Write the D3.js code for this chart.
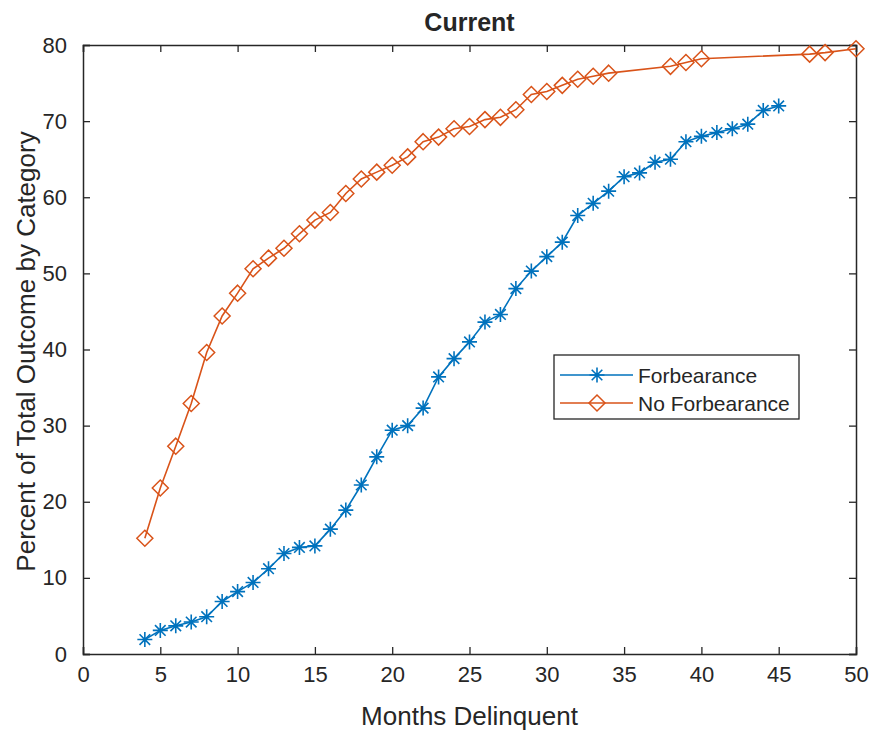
<!DOCTYPE html>
<html>
<head>
<meta charset="utf-8">
<script src="https://cdn.jsdelivr.net/npm/d3@7"></script>
<style>
  body { margin: 0; background: #fff; }
  text { font-family: "Liberation Sans", Arial, sans-serif; fill: #262626; }
</style>
</head>
<body>
<div id="chart"></div>
<script>
// data
let months_forb = [4, 5, 6, 7, 8, 9, 10, 11, 12, 13, 14, 15, 16, 17, 18, 19, 20, 21, 22, 23, 24,
    25, 26, 27, 28, 29, 30, 31, 32, 33, 34, 35, 36, 37, 38, 39, 40, 41, 42, 43, 44, 45];
let pct_forb = [1.9, 3.1, 3.7, 4.2, 4.9, 6.9, 8.2, 9.4, 11.2, 13.2, 14.0, 14.2, 16.4, 18.9, 22.2, 25.9, 29.4, 30.0, 32.3, 36.4, 38.8,
    41.0, 43.6, 44.6, 48.0, 50.3, 52.2, 54.1, 57.6, 59.2, 60.8, 62.7, 63.2, 64.6, 65.0, 67.3, 68.0, 68.5, 69.0, 69.6, 71.4, 72.0];

let months_noforb = [4, 5, 6, 7, 8, 9, 10, 11, 12, 13, 14, 15, 16, 17, 18, 19, 20, 21, 22, 23, 24,
    25, 26, 27, 28, 29, 30, 31, 32, 33, 34, 38, 39, 40, 47, 48, 50];
let pct_noforb = [15.2, 21.8, 27.3, 32.9, 39.6, 44.4, 47.4, 50.6, 52.0, 53.3, 55.2, 57.0, 58.0, 60.5, 62.4, 63.3, 64.2, 65.3, 67.3, 67.9, 69.0,
    69.3, 70.2, 70.5, 71.5, 73.5, 73.9, 74.7, 75.5, 75.9, 76.3, 77.2, 77.7, 78.2, 78.8, 79.0, 79.5];

let x_ticks = [0, 5, 10, 15, 20, 25, 30, 35, 40, 45, 50];
let y_ticks = [0, 10, 20, 30, 40, 50, 60, 70, 80];

let series = [
    { name: 'Forbearance', months: months_forb, pct: pct_forb, color: '#0072BD', marker: 'star' },
    { name: 'No Forbearance', months: months_noforb, pct: pct_noforb, color: '#D95319', marker: 'diamond' }
];

let W = 871, H = 730;
let margin = { top: 45, right: 15, bottom: 76, left: 83 },
    width = W - margin.left - margin.right,
    height = H - margin.top - margin.bottom;

let svg = d3.select('#chart').append('svg')
    .attr('width', W)
    .attr('height', H);

let g = svg.append('g')
    .attr('transform', 'translate(' + margin.left + ',' + margin.top + ')');

let x = d3.scaleLinear().domain([0, 50]).range([0, width]);
let y = d3.scaleLinear().domain([0, 80]).range([height, 0]);

let axisColor = '#262626';
let tickLen = 7;

// bottom axis with labels, ticks pointing inward
let xAxis = g.append('g')
    .attr('transform', 'translate(0,' + height + ')')
    .call(d3.axisBottom(x).tickValues(x_ticks).tickSize(-tickLen).tickPadding(tickLen + 8));
// left axis
let yAxis = g.append('g')
    .call(d3.axisLeft(y).tickValues(y_ticks).tickSize(-tickLen).tickPadding(tickLen + 9));
// top and right axes, ticks only
let xTop = g.append('g')
    .call(d3.axisTop(x).tickValues(x_ticks).tickSize(-tickLen).tickFormat(''));
let yRight = g.append('g')
    .attr('transform', 'translate(' + width + ',0)')
    .call(d3.axisRight(y).tickValues(y_ticks).tickSize(-tickLen).tickFormat(''));

[xAxis, yAxis, xTop, yRight].forEach(function (a) {
    a.select('.domain').attr('stroke', axisColor).attr('stroke-width', 1.5);
    a.selectAll('.tick line').attr('stroke', axisColor).attr('stroke-width', 1.3);
    a.selectAll('.tick text')
        .style('font-family', '"Liberation Sans", Arial, sans-serif')
        .style('font-size', '22px')
        .attr('fill', axisColor);
});
xAxis.selectAll('.tick text').attr('dy', '0.6em');

// lines
let line = d3.line()
    .x(function (d) { return x(d[0]); })
    .y(function (d) { return y(d[1]); });

let starPath = function (r) {
    // asterisk: 4 strokes through the centre
    let p = '';
    for (let i = 0; i < 4; i++) {
        let a = i * Math.PI / 4;
        let dx = r * Math.cos(a), dy = r * Math.sin(a);
        p += 'M' + (-dx) + ',' + (-dy) + 'L' + dx + ',' + dy;
    }
    return p;
};
let diamondPath = function (r) {
    return 'M0,' + (-r) + 'L' + r + ',0L0,' + r + 'L' + (-r) + ',0Z';
};

function drawMarker(sel, s) {
    if (s.marker == 'star') {
        sel.append('path').attr('d', starPath(7.5))
            .attr('fill', 'none').attr('stroke', s.color).attr('stroke-width', 1.6);
    } else {
        sel.append('path').attr('d', diamondPath(8))
            .attr('fill', 'none').attr('stroke', s.color).attr('stroke-width', 1.5);
    }
}

series.forEach(function (s) {
    let pts = s.months.map(function (m, i) { return [m, s.pct[i]]; });
    g.append('path')
        .datum(pts)
        .attr('fill', 'none')
        .attr('stroke', s.color)
        .attr('stroke-width', 1.6)
        .attr('d', line);
    g.selectAll('.mk-' + s.marker)
        .data(pts)
        .enter()
        .append('g')
        .attr('class', 'mk-' + s.marker)
        .attr('transform', function (d) { return 'translate(' + x(d[0]) + ',' + y(d[1]) + ')'; })
        .each(function () { drawMarker(d3.select(this), s); });
});

// title
svg.append('text')
    .attr('x', margin.left + width / 2)
    .attr('y', 31)
    .attr('text-anchor', 'middle')
    .style('font-size', '25px')
    .style('font-weight', 'bold')
    .attr('fill', '#000')
    .text('Current');

// axis labels
svg.append('text')
    .attr('x', margin.left + width / 2)
    .attr('y', 725)
    .attr('text-anchor', 'middle')
    .style('font-size', '26px')
    .text('Months Delinquent');

svg.append('text')
    .attr('transform', 'translate(35,' + (margin.top + height / 2 + 2) + ')rotate(-90)')
    .attr('text-anchor', 'middle')
    .style('font-size', '26px')
    .text('Percent of Total Outcome by Category');

// legend
let legend = svg.append('g').attr('transform', 'translate(554,355)');
legend.append('rect')
    .attr('width', 245).attr('height', 64)
    .attr('fill', '#fff').attr('stroke', axisColor).attr('stroke-width', 1.3);
series.forEach(function (s, i) {
    let row = legend.append('g').attr('transform', 'translate(0,' + (20 + i * 28) + ')');
    row.append('line').attr('x1', 6).attr('x2', 79)
        .attr('stroke', s.color).attr('stroke-width', 1.6);
    drawMarker(row.append('g').attr('transform', 'translate(43,0)'), s);
    row.append('text').attr('x', 84).attr('dy', '0.36em')
        .style('font-size', '21px')
        .text(s.name);
});
</script>
</body>
</html>
